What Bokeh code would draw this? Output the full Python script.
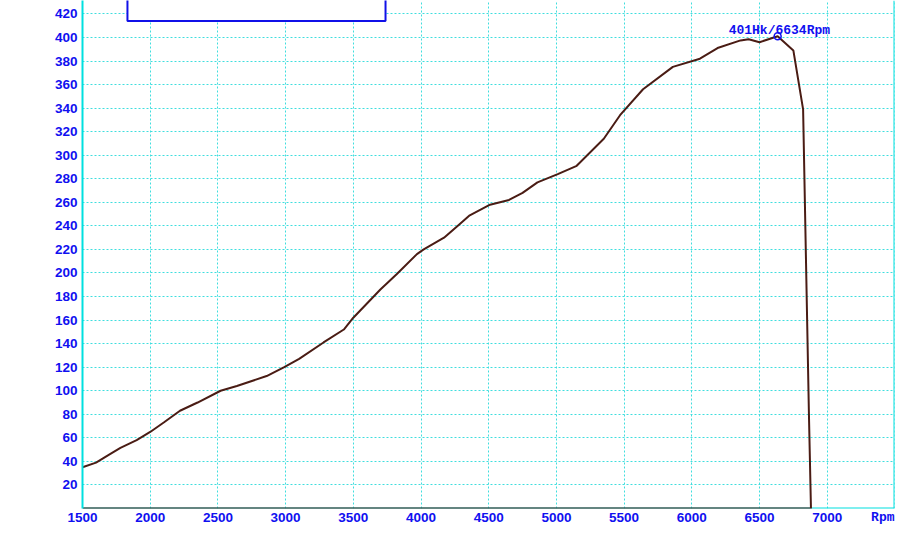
from bokeh.plotting import figure
from bokeh.models import Range1d, FixedTicker, Span, BoxAnnotation, Label
from bokeh.embed import file_html
from bokeh.resources import INLINE

# --- data ---
rpm = [1500, 1600, 1700, 1780, 1900, 2000, 2100, 2220, 2350, 2520, 2640, 2860, 2990,
       3100, 3280, 3430, 3500, 3700, 3820, 3970, 4020, 4170, 4270, 4360, 4510, 4650,
       4750, 4860, 5010, 5150, 5350, 5470, 5640, 5860, 6060, 6190, 6360, 6420, 6500,
       6634, 6750, 6822, 6865, 6880]
hp = [35, 39, 46, 51.5, 58, 65, 73, 83, 90, 100, 104, 112.5, 120,
      127, 141, 152, 162, 186, 199, 216, 220, 230, 240, 249, 258, 262,
      268, 277, 284, 291, 314, 334, 356, 375, 382, 391, 397.5, 398.5, 396,
      401, 389, 339, 80, 0]
peak_rpm = 6634
peak_hp = 401
x_ticks = [1500, 2000, 2500, 3000, 3500, 4000, 4500, 5000, 5500, 6000, 6500, 7000]
y_ticks = [20, 40, 60, 80, 100, 120, 140, 160, 180, 200, 220, 240, 260, 280, 300,
           320, 340, 360, 380, 400, 420]
x_unit = "Rpm"
hp_unit = "Hk"

X0, X1 = 1500, 7497
Y0, Y1 = 0, 431.4
W, H = 898, 535

BLUE = "#1010f0"
CYAN = "#40dede"
CURVE = "#4a1c14"

p = figure(width=W, height=H, x_range=Range1d(X0, X1), y_range=Range1d(Y0, Y1),
           output_backend="svg", toolbar_location=None,
           min_border_left=82, min_border_right=4, min_border_top=0, min_border_bottom=27)
p.background_fill_color = "white"
p.border_fill_color = "white"
p.outline_line_color = None

# grid
p.xgrid.ticker = FixedTicker(ticks=x_ticks[1:] + [7500])
p.ygrid.ticker = FixedTicker(ticks=y_ticks)
for g in (p.xgrid, p.ygrid):
    g.grid_line_color = CYAN
    g.grid_line_dash = "2 2"
    g.grid_line_width = 1

# axes
p.xaxis.ticker = FixedTicker(ticks=x_ticks)
p.yaxis.ticker = FixedTicker(ticks=y_ticks)
for ax in (p.xaxis, p.yaxis):
    ax.major_tick_line_color = None
    ax.minor_tick_line_color = None
    ax.major_tick_out = 0
    ax.major_tick_in = 0
    ax.major_label_text_font = "Liberation Sans"
    ax.major_label_text_font_style = "bold"
    ax.major_label_text_font_size = "13.5px"
    ax.major_label_text_color = BLUE
p.xaxis.axis_line_color = None
p.xaxis.major_label_standoff = 4
p.yaxis.axis_line_color = "#00e0e0"
p.yaxis.axis_line_width = 2
p.yaxis.major_label_standoff = 5

# unit name at the right end of the x axis (padded with no-break spaces so it
# sits inside the window, as in the reference)
p.xaxis.axis_label = x_unit + "\u00a0\u00a0\u00a0"
p.xaxis.axis_label_align = "end"
p.xaxis.axis_label_standoff = -15
p.xaxis.axis_label_text_font = "Liberation Mono"
p.xaxis.axis_label_text_font_style = "bold"
p.xaxis.axis_label_text_font_size = "13px"
p.xaxis.axis_label_text_color = BLUE

# frame lines
p.add_layout(Span(location=Y0, dimension="width", line_color="#00e0e0", line_width=2, level="underlay"))
p.add_layout(Span(location=X1, dimension="height", line_color="#00e0e0", line_width=2))

# curve (closed back along the baseline)
p.line(rpm + [rpm[0]], hp + [0], line_color=CURVE, line_width=2)

# peak marker and label
p.scatter([peak_rpm], [peak_hp], marker="circle", size=7, fill_color=None,
          line_color=BLUE, line_width=1.5)
p.add_layout(Label(x=peak_rpm, y=peak_hp, text=f"{peak_hp}{hp_unit}/{peak_rpm}{x_unit}",
                   x_offset=-49, y_offset=6, text_align="left", text_baseline="alphabetic",
                   text_font="Liberation Mono", text_font_style="bold",
                   text_font_size="13px", text_color=BLUE))

# empty legend box at the top
p.add_layout(BoxAnnotation(left=1832, right=3738, bottom=414, top=600,
                           fill_color="white", fill_alpha=1.0,
                           line_color="#1010e8", line_alpha=1.0, line_width=2))

open("out.html", "w").write(file_html(p, INLINE))
